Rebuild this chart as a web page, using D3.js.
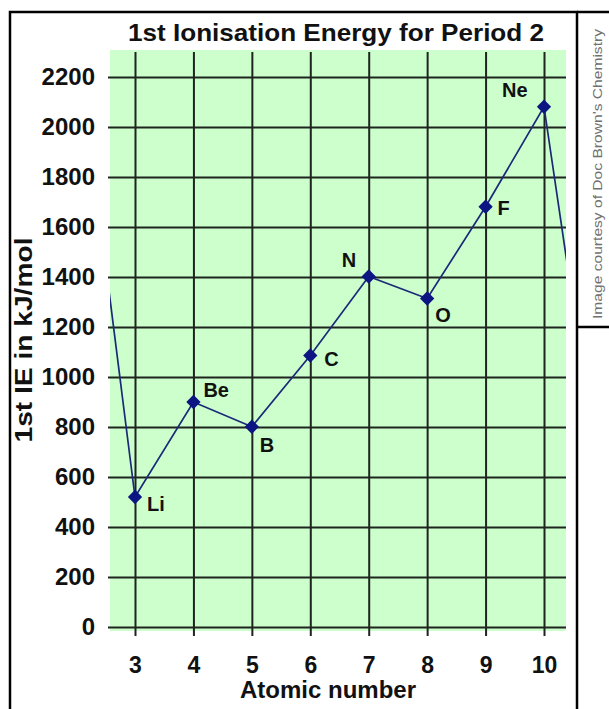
<!DOCTYPE html>
<html>
<head>
<meta charset="utf-8">
<script src="https://cdn.jsdelivr.net/npm/d3@7"></script>
<style>
    body { margin: 0; background: #fff; }
    svg { display: block; font-family: Arial, "Liberation Sans", sans-serif; }
</style>
</head>
<body>
<svg id="chart" width="609" height="709"></svg>
<script>
// neighbours He and Na are only there so the line runs off the plot edges
var elements = ["He", "Li", "Be", "B", "C", "N", "O", "F", "Ne", "Na"]
var atomicNumbers = [2, 3, 4, 5, 6, 7, 8, 9, 10, 11]
var ionisationEnergy = [2372, 520, 900, 801, 1086, 1402, 1314, 1681, 2081, 496]
var shown = ["Li", "Be", "B", "C", "N", "O", "F", "Ne"]
var xTicks = [3, 4, 5, 6, 7, 8, 9, 10]
var yTicks = [0, 200, 400, 600, 800, 1000, 1200, 1400, 1600, 1800, 2000, 2200]

var titleText = "1st Ionisation Energy for Period 2"
var xTitle = "Atomic number"
var yTitle = "1st IE in kJ/mol"
var credit = "Image courtesy of Doc Brown's Chemistry"

var data = elements.map(function(d, i) {
    return {el: d, z: atomicNumbers[i], ie: ionisationEnergy[i]}
})

var svg = d3.select("#chart")
var plotLeft = 110, plotRight = 566, plotTop = 50, plotBottom = 631
var gridColor = "#1e241e"
var lineColor = "#1b2a78"

var x = d3.scaleLinear().domain([3, 10]).range([135, 544])
var y = d3.scaleLinear().domain([0, 2200]).range([627, 77])

// green plot background
svg.append("rect")
    .attr("x", plotLeft)
    .attr("y", plotTop)
    .attr("width", plotRight - plotLeft)
    .attr("height", plotBottom - plotTop)
    .attr("fill", "#ccffcc")

// horizontal grid + y labels
var yAxis = svg.append("g")
    .attr("transform", "translate(" + plotRight + ",0)")
    .call(d3.axisLeft(y).tickValues(yTicks).tickFormat(d3.format("d"))
        .tickSize(plotRight - plotLeft + 2).tickPadding(13))
yAxis.select(".domain").remove()
yAxis.selectAll("line").attr("stroke", gridColor).attr("stroke-width", 2)
yAxis.selectAll("text")
    .attr("fill", "#111")
    .attr("font-size", 24)
    .attr("font-weight", "bold")

// vertical grid + x labels
var xAxis = svg.append("g")
    .attr("transform", "translate(0," + (plotTop + 2) + ")")
    .call(d3.axisBottom(x).tickValues(xTicks).tickFormat(d3.format("d"))
        .tickSize(584).tickPadding(21))
xAxis.select(".domain").remove()
xAxis.selectAll("line").attr("stroke", gridColor).attr("stroke-width", 2)
xAxis.selectAll("text")
    .attr("fill", "#111")
    .attr("font-size", 23)
    .attr("font-weight", "bold")

svg.append("clipPath").attr("id", "plotClip")
    .append("rect")
    .attr("x", plotLeft)
    .attr("y", plotTop)
    .attr("width", plotRight - plotLeft)
    .attr("height", plotBottom - plotTop)

var line = d3.line()
    .x(function(d) { return x(d.z) })
    .y(function(d) { return y(d.ie) })

svg.append("path")
    .datum(data)
    .attr("clip-path", "url(#plotClip)")
    .attr("d", line)
    .attr("fill", "none")
    .attr("stroke", lineColor)
    .attr("stroke-width", 1.7)

var pts = data.filter(function(d) { return shown.indexOf(d.el) >= 0 })

svg.append("g").selectAll("path")
    .data(pts)
    .enter().append("path")
    .attr("transform", function(d) { return "translate(" + x(d.z) + "," + y(d.ie) + ")" })
    .attr("d", d3.symbol().type(d3.symbolDiamond2).size(130))
    .attr("fill", "#0c1582")

// where each element name sits next to its marker
var labelOffset = {
    Li: [12, 14], Be: [10, -5], B: [8, 25], C: [14, 10],
    N: [-27, -10], O: [8, 23], F: [12, 8], Ne: [-42, -10]
}

svg.append("g").selectAll("text")
    .data(pts)
    .enter().append("text")
    .attr("x", function(d) { return x(d.z) + labelOffset[d.el][0] })
    .attr("y", function(d) { return y(d.ie) + labelOffset[d.el][1] })
    .attr("font-size", 20)
    .attr("font-weight", "bold")
    .attr("fill", "#111")
    .text(function(d) { return d.el })

// titles
svg.append("text")
    .attr("x", 336)
    .attr("y", 41)
    .attr("text-anchor", "middle")
    .attr("font-size", 24)
    .attr("font-weight", "bold")
    .attr("fill", "#111")
    .attr("textLength", 416)
    .attr("lengthAdjust", "spacingAndGlyphs")
    .text(titleText)

svg.append("text")
    .attr("x", 328)
    .attr("y", 698)
    .attr("text-anchor", "middle")
    .attr("font-size", 24)
    .attr("font-weight", "bold")
    .attr("fill", "#111")
    .text(xTitle)

svg.append("text")
    .attr("transform", "translate(32,340) rotate(-90)")
    .attr("text-anchor", "middle")
    .attr("font-size", 24)
    .attr("font-weight", "bold")
    .attr("fill", "#111")
    .attr("textLength", 205)
    .attr("lengthAdjust", "spacingAndGlyphs")
    .text(yTitle)

// frame
var frame = svg.append("g").attr("fill", "none").attr("stroke", "#000").attr("stroke-width", 2.5)
frame.append("path").attr("d", "M10,709V12H577V709")
frame.append("path").attr("d", "M577,12H612M577,327H612")

svg.append("text")
    .attr("transform", "translate(602,174) rotate(-90)")
    .attr("text-anchor", "middle")
    .attr("font-size", 12)
    .attr("fill", "#707070")
    .attr("textLength", 290)
    .attr("lengthAdjust", "spacingAndGlyphs")
    .text(credit)
</script>
</body>
</html>
